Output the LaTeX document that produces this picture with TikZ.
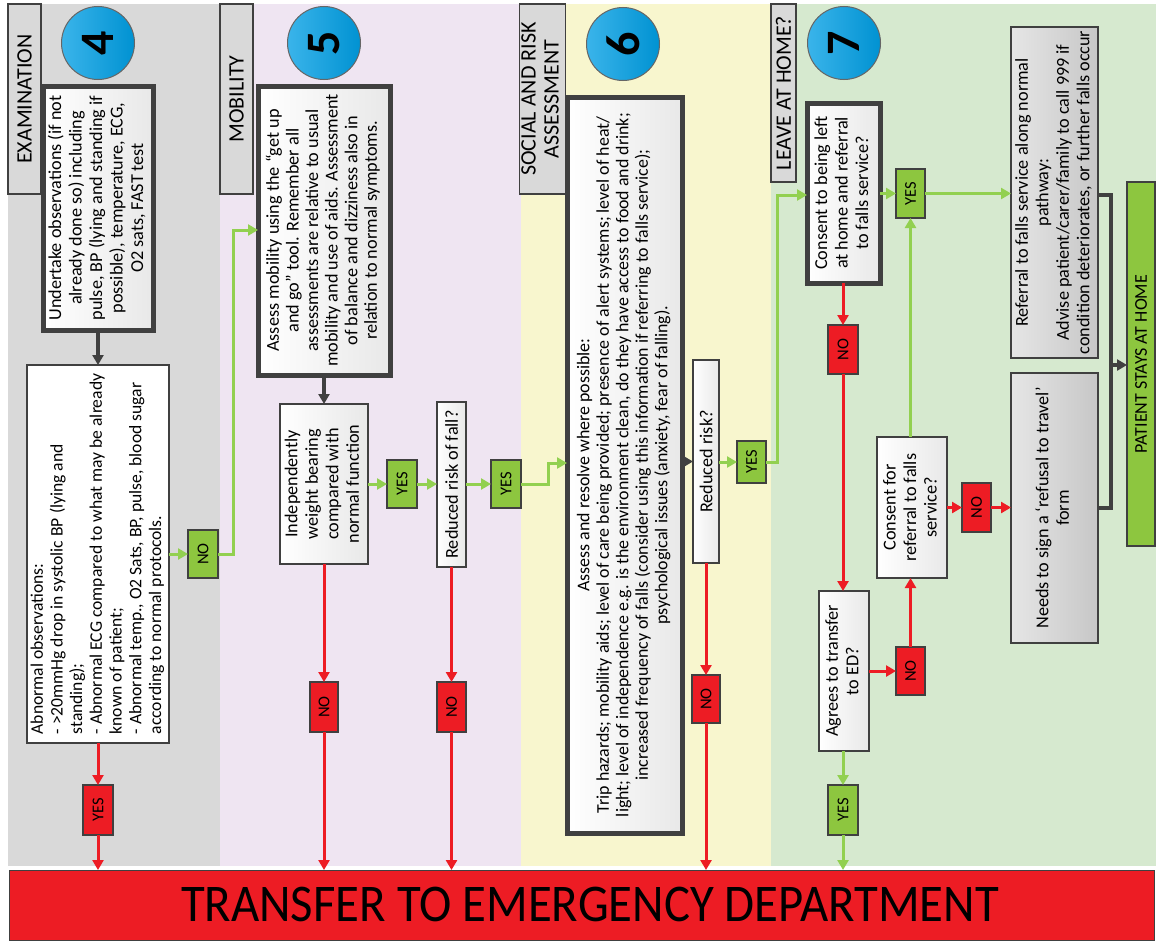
\documentclass[tikz,border=0pt]{standalone}
\usepackage{fontspec}
\setmainfont{Carlito}
\usetikzlibrary{arrows.meta}
\definecolor{dgray}{HTML}{404040}
\definecolor{lanegray}{HTML}{D9D9D9}
\definecolor{lanepink}{HTML}{EFE5F2}
\definecolor{laneyel}{HTML}{F8F6CE}
\definecolor{lanegrn}{HTML}{D6E9CF}
\definecolor{myred}{HTML}{ED1C24}
\definecolor{mygrn}{HTML}{8DC63F}
\definecolor{lgrn}{HTML}{92D050}
\definecolor{cblueA}{HTML}{3AB4EA}
\definecolor{cblueB}{HTML}{0092D2}
\newcommand{\rtxt}[2][c]{\rotatebox{90}{\begin{tabular}{@{}#1@{}}#2\end{tabular}}}
\begin{document}
\begin{tikzpicture}[x=1pt,y=-1pt,
  base/.style={rectangle, inner sep=0pt, outer sep=0pt, text=black, font=\fontsize{18.2}{20.5}\selectfont},
  wbox/.style={base, draw=dgray, line width=1.5pt, left color=white, right color=black!9},
  tbox/.style={wbox, line width=5pt},
  gbox/.style={base, draw=dgray, line width=1.5pt, left color=black!10, right color=black!22},
  hdr/.style={base, draw=dgray, line width=1.2pt, fill=lanegray, font=\fontsize{22}{23}\selectfont},
  yesbox/.style={base, draw=dgray, line width=1.2pt, fill=mygrn, minimum width=30, minimum height=48, font=\fontsize{16.5}{18}\selectfont},
  nobox/.style={yesbox, fill=myred},
  circ/.style={circle, draw=dgray!80, line width=1pt, inner sep=0pt, minimum size=73, left color=cblueA, right color=cblueB, font=\bfseries\fontsize{48}{48}\selectfont},
  gar/.style={draw=lgrn, line width=3pt, -{Triangle[length=10pt,width=11pt]}},
  rar/.style={draw=myred, line width=3pt, -{Triangle[length=10pt,width=11pt]}},
  dar/.style={draw=dgray, line width=4pt, -{Triangle[length=10pt,width=11pt]}},
  dline/.style={draw=dgray, line width=4pt}]
\useasboundingbox (0,0) rectangle (1156,942);
\fill[white] (0,0) rectangle (1156,942);
% lanes
\fill[lanegray] (8,4) rectangle (220,866);
\fill[lanepink] (220,4) rectangle (521,866);
\fill[laneyel] (521,4) rectangle (771,866);
\fill[lanegrn] (771,4) rectangle (1156,866);
% headers
\node[hdr, minimum width=33, minimum height=190] (h4) at (24.5,99) {\rotatebox{90}{EXAMINATION}};
\node[hdr, minimum width=33, minimum height=190] (h5) at (236.5,99) {\rotatebox{90}{MOBILITY}};
\node[hdr, minimum width=43, minimum height=190] (h6) at (542.5,99) {\rtxt{SOCIAL AND RISK\\ASSESSMENT}};
\node[hdr, minimum width=25, minimum height=178] (h7) at (783.5,93) {\rotatebox{90}{LEAVE AT HOME?}};
% circles
\node[circ] (c4) at (98,43) {\rotatebox{90}{4}};
\node[circ] (c5) at (324,43) {\rotatebox{90}{5}};
\node[circ] (c6) at (623,44) {\rotatebox{90}{6}};
\node[circ] (c7) at (844,43) {\rotatebox{90}{7}};
% lane 4
\node[tbox, minimum width=110, minimum height=244] (b4a) at (98,208) {\rtxt{Undertake observations (if not\\already done so) including\\pulse, BP (lying and standing if\\possible), temperature, ECG,\\O2 sats, FAST test}};
\node[wbox, right color=white, minimum width=142, minimum height=378, font=\fontsize{17.6}{19.7}\selectfont] (b4b) at (98,554) {\rtxt[l]{Abnormal observations:\\- >20mmHg drop in systolic BP (lying and\\standing);\\- Abnormal ECG compared to what may be already\\known of patient;\\- Abnormal temp., O2 Sats, BP, pulse, blood sugar\\according to normal protocols.}};
\node[yesbox] (no4) at (203,554) {\rotatebox{90}{NO}};
\node[nobox, minimum height=50] (yes4) at (98,810) {\rotatebox{90}{YES}};
% lane 5
\node[tbox, minimum width=132, minimum height=289, font=\fontsize{18.2}{19.6}\selectfont] (b5a) at (324,230.5) {\rtxt{Assess mobility using the “get up\\and go” tool. Remember all\\assessments are relative to usual\\mobility and use of aids. Assessment\\of balance and dizziness also in\\relation to normal symptoms.}};
\node[wbox, minimum width=88, minimum height=160] (b5b) at (324,484) {\rtxt{Independently\\weight bearing\\compared with\\normal function}};
\node[yesbox] (yes5a) at (402,484) {\rotatebox{90}{YES}};
\node[wbox, minimum width=29, minimum height=165] (b5c) at (451.5,484.5) {\rotatebox{90}{Reduced risk of fall?}};
\node[yesbox] (yes5b) at (506,484) {\rotatebox{90}{YES}};
\node[nobox, minimum width=28, minimum height=50] (no5a) at (324,707) {\rotatebox{90}{NO}};
\node[nobox, minimum width=29, minimum height=50] (no5b) at (451.5,707) {\rotatebox{90}{NO}};
% lane 6
\node[tbox, minimum width=115, minimum height=736, font=\fontsize{17.9}{19.5}\selectfont] (b6) at (624.5,465) {\rtxt{Assess and resolve where possible:\\Trip hazards; mobility aids; level of care being provided; presence of alert systems; level of heat/\\light; level of independence e.g. is the environment clean, do they have access to food and drink;\\increased frequency of falls (consider using this information if referring to falls service);\\psychological issues (anxiety, fear of falling).}};
\node[wbox, minimum width=26, minimum height=203] (b6r) at (706,461.5) {\rotatebox{90}{Reduced risk?}};
\node[yesbox, minimum width=29, minimum height=42] (yes6) at (751.5,462) {\rotatebox{90}{YES}};
\node[nobox, minimum width=28] (no6) at (706,699) {\rotatebox{90}{NO}};
% lane 7
\node[tbox, minimum width=73, minimum height=180] (b7a) at (843.5,193) {\rtxt{Consent to being left\\at home and referral\\to falls service?}};
\node[yesbox, minimum width=29, minimum height=49] (yes7a) at (910.5,193.5) {\rotatebox{90}{YES}};
\node[nobox, minimum height=49] (no7a) at (843,349.5) {\rotatebox{90}{NO}};
\node[wbox, minimum width=50, minimum height=160] (b7b) at (844,671) {\rtxt{Agrees to transfer\\to ED?}};
\node[nobox, minimum width=29] (no7b) at (910.5,671) {\rotatebox{90}{NO}};
\node[wbox, minimum width=70, minimum height=141] (b7c) at (912,507.5) {\rtxt{Consent for\\referral to falls\\service?}};
\node[nobox, minimum width=29, minimum height=49] (no7c) at (976.5,507.5) {\rotatebox{90}{NO}};
\node[yesbox, minimum height=50] (yes7b) at (843,810) {\rotatebox{90}{YES}};
\node[gbox, minimum width=87, minimum height=331] (b7d) at (1054.5,192.5) {\rtxt{Referral to falls service along normal\\pathway:\\Advise patient/carer/family to call 999 if\\condition deteriorates, or further falls occur}};
\node[gbox, minimum width=87, minimum height=270] (b7e) at (1054.5,508) {\rtxt{Needs to sign a ‘refusal to travel’\\form}};
\node[base, draw=dgray, line width=1.2pt, fill=mygrn, minimum width=28, minimum height=364, font=\fontsize{18}{20}\selectfont] (stay) at (1141,364) {\rotatebox{90}{PATIENT STAYS AT HOME}};
% bottom bar
\node[base, draw=dgray, line width=1pt, fill=myred, minimum width=1145, minimum height=70] (bar) at (581.5,905) {};
\node[base, font=\fontsize{53}{60}\selectfont] (bartxt) at (590,904) {\scalebox{0.92}[1]{TRANSFER TO EMERGENCY DEPARTMENT}};
% coordinates
\coordinate (k1) at (233,230);
\coordinate (k2) at (548,463);
\coordinate (k3) at (777,195);
\coordinate (k4) at (1111,195);
\coordinate (k5) at (1111,508);
\coordinate (k6) at (1111,365);
% connectors lane 4
\draw[dar] (b4a.south) -- (b4b.north);
\draw[gar] (b4b.east) -- (no4.west);
\draw[gar] (no4.east) -| (k1) -- (k1 -| b5a.west);
\draw[rar] (b4b.south) -- (yes4.north);
\draw[rar] (yes4.south) -- (yes4.south |- bar.north);
% lane 5
\draw[dar] (b5a.south) -- (b5b.north);
\draw[gar] (b5b.east) -- (yes5a.west);
\draw[gar] (yes5a.east) -- (yes5a.east -| b5c.west);
\draw[gar] (yes5b.west -| b5c.east) -- (yes5b.west);
\draw[gar] (yes5b.east) -| (k2) -- (k2 -| b6.west);
\draw[rar] (b5b.south) -- (no5a.north);
\draw[rar] (no5a.south) -- (no5a.south |- bar.north);
\draw[rar] (b5c.south) -- (no5b.north);
\draw[rar] (no5b.south) -- (no5b.south |- bar.north);
% lane 6
\draw[dar] (b6.east |- b6r.west) -- (b6r.west);
\draw[gar] (b6r.east |- yes6.west) -- (yes6.west);
\draw[gar] (yes6.east) -| (k3) -- (k3 -| b7a.west);
\draw[rar] (b6r.south) -- (no6.north);
\draw[rar] (no6.south) -- (no6.south |- bar.north);
% lane 7
\draw[gar] (b7a.east |- yes7a.west) -- (yes7a.west);
\draw[gar] (yes7a.east) -- (yes7a.east -| b7d.west);
\draw[rar] (b7a.south -| no7a.north) -- (no7a.north);
\draw[rar] (no7a.south) -- (no7a.south |- b7b.north);
\draw[rar] (b7b.east |- no7b.west) -- (no7b.west);
\draw[rar] (no7b.north) -- (no7b.north |- b7c.south);
\draw[gar] (yes7a.south |- b7c.north) -- (yes7a.south);
\draw[rar] (b7c.east |- no7c.west) -- (no7c.west);
\draw[rar] (no7c.east) -- (no7c.east -| b7e.west);
\draw[gar] (b7b.south -| yes7b.north) -- (yes7b.north);
\draw[gar] (yes7b.south) -- (yes7b.south |- bar.north);
\draw[dline] (b7d.east |- k4) -- (k4) -- (k5) -- (k5 -| b7e.east);
\draw[dar] (k6) -- (k6 -| stay.west);
\end{tikzpicture}
\end{document}
